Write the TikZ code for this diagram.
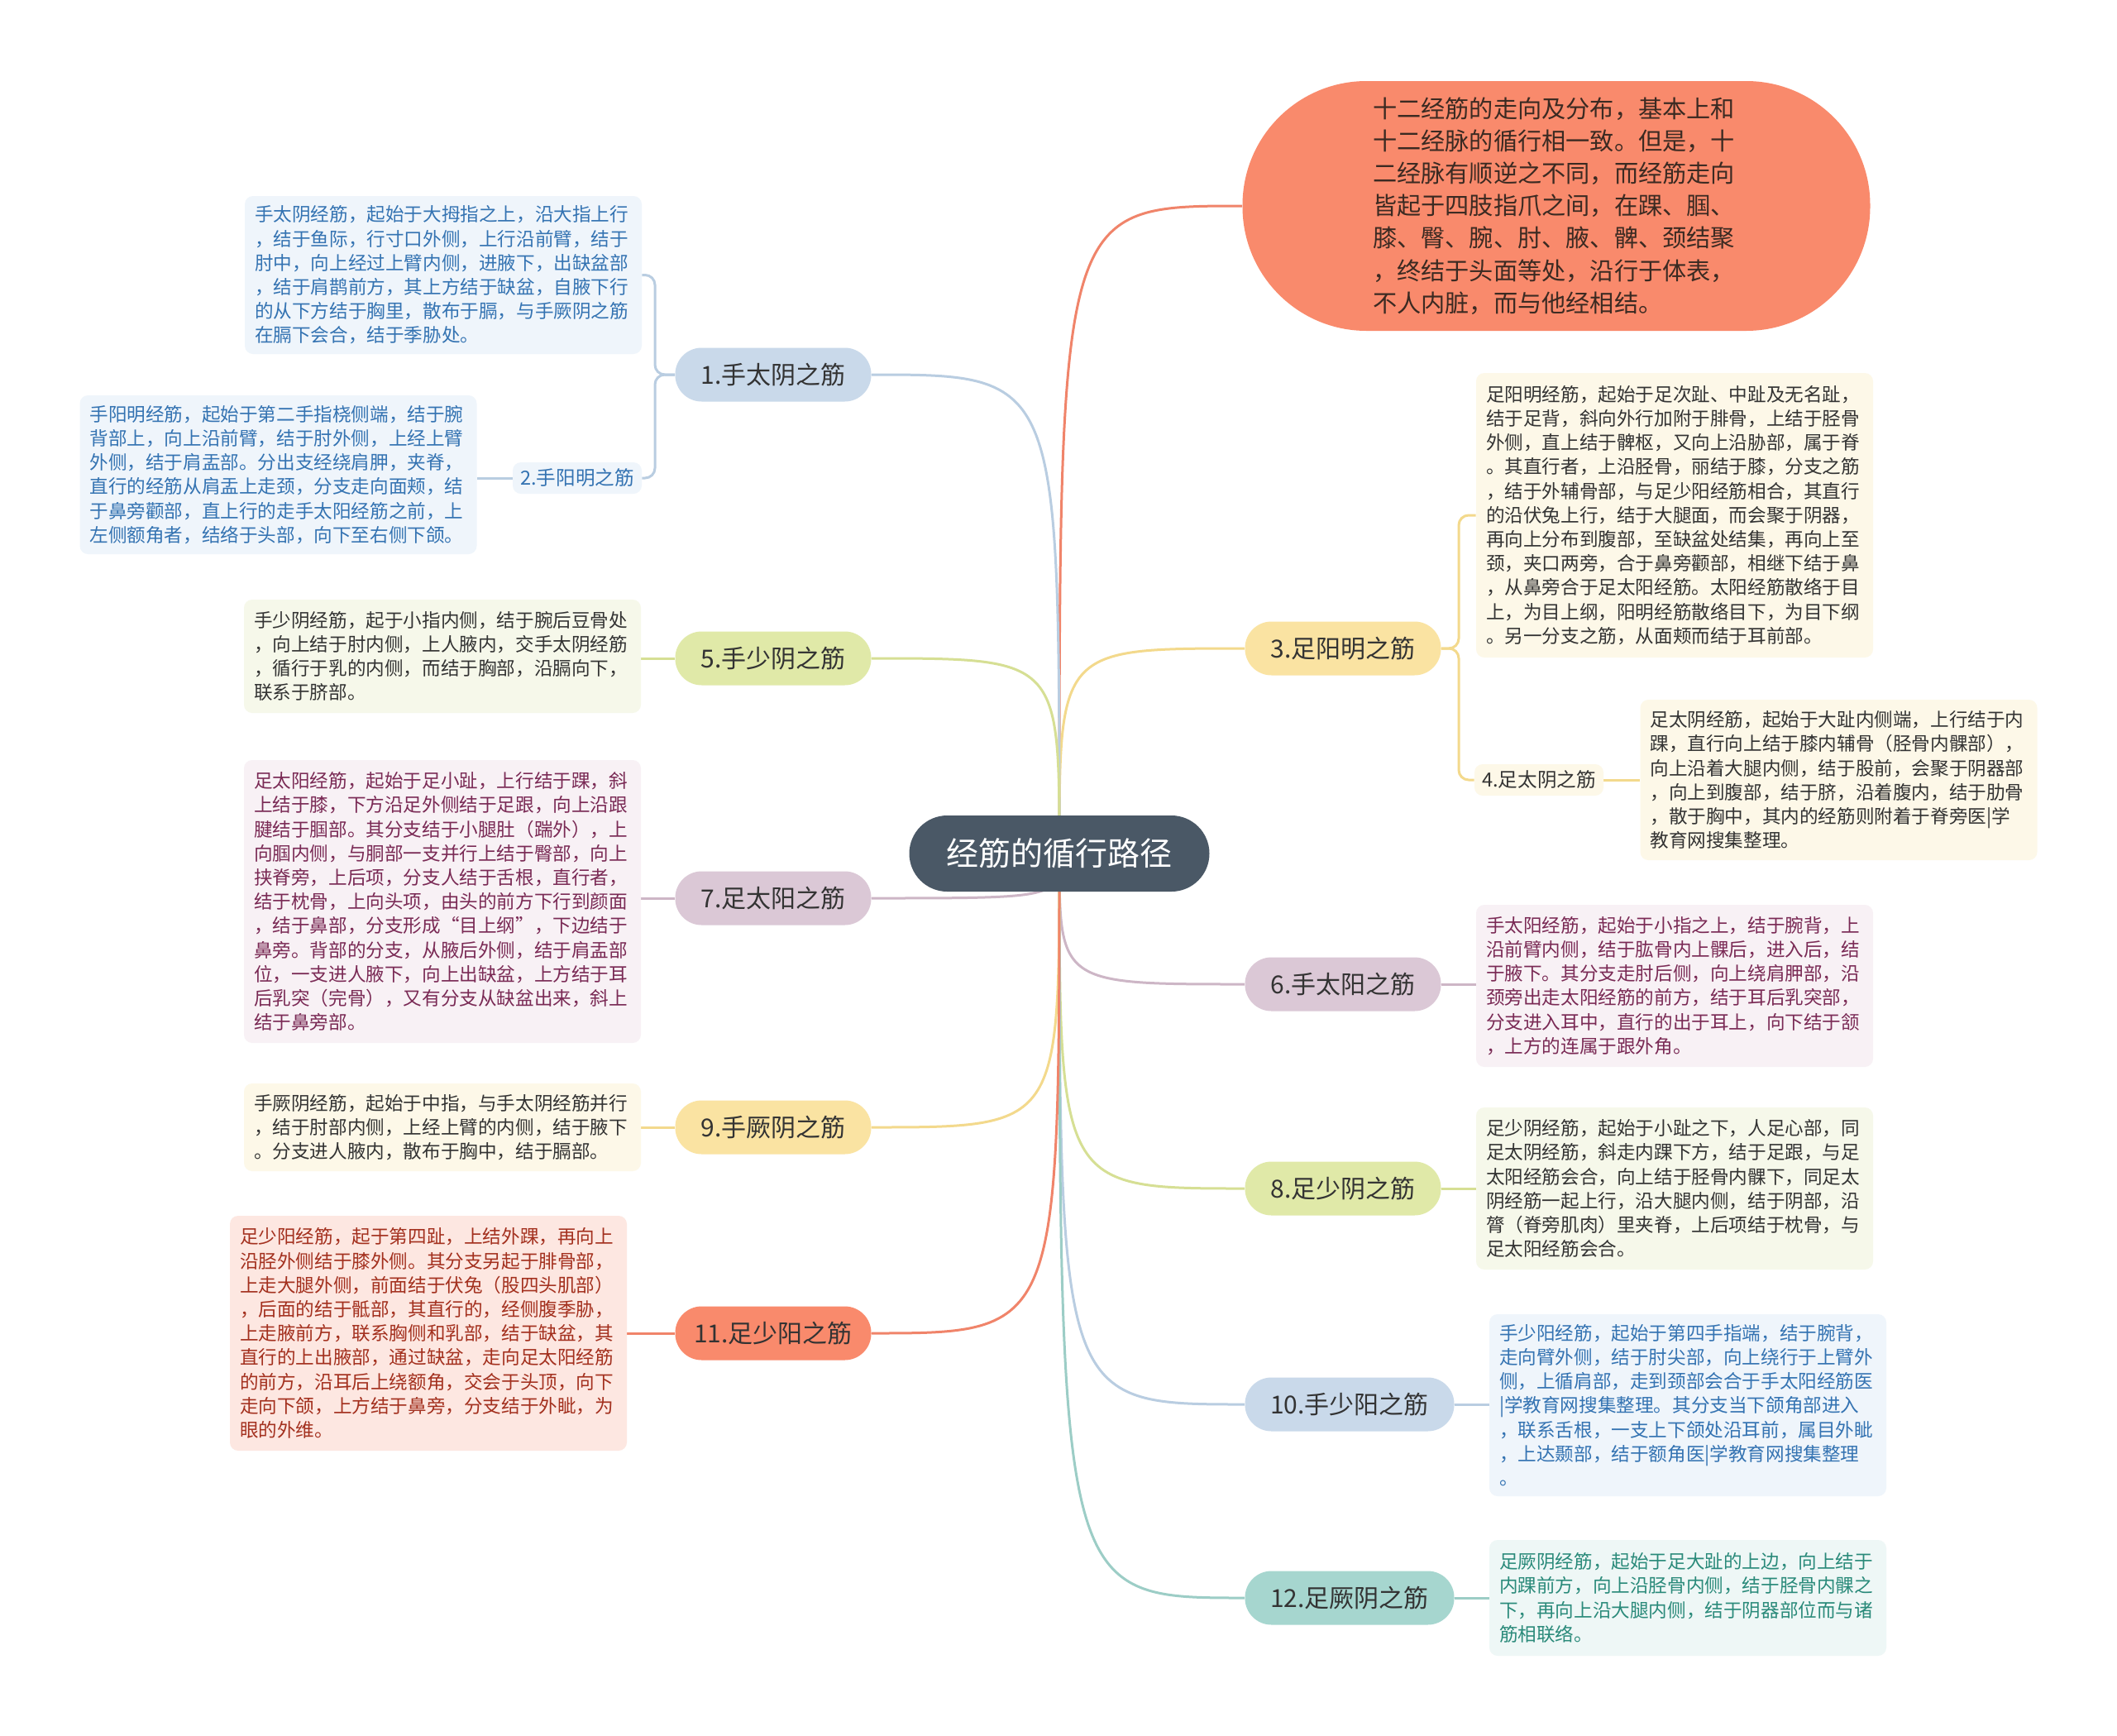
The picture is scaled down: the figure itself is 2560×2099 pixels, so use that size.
\documentclass[tikz,border=0pt]{standalone}
\usepackage{fontspec}
\setmainfont{Noto Sans CJK SC}
\usetikzlibrary{backgrounds}
\definecolor{txt}{HTML}{333333}
\definecolor{rootC}{HTML}{4A5866}
\definecolor{coral}{HTML}{F98A6C}
\definecolor{coralLn}{HTML}{F0846A}
\definecolor{bubTx}{HTML}{3B2A22}
\definecolor{bluePill}{HTML}{C9D9EA}
\definecolor{blueLn}{HTML}{B9CDE1}
\definecolor{blueBg}{HTML}{EFF5FB}
\definecolor{blueTx}{HTML}{3473B2}
\definecolor{yelPill}{HTML}{FAE3A2}
\definecolor{yelLn}{HTML}{F3D98C}
\definecolor{yelBg}{HTML}{FDF8E8}
\definecolor{grnPill}{HTML}{E0E9A8}
\definecolor{grnLn}{HTML}{D6DF94}
\definecolor{grnBg}{HTML}{F6F8EA}
\definecolor{mauPill}{HTML}{DBC8D6}
\definecolor{mauLn}{HTML}{CDB6C6}
\definecolor{mauBg}{HTML}{F8F1F5}
\definecolor{mauTx}{HTML}{7A2A55}
\definecolor{corBg}{HTML}{FDE7E1}
\definecolor{corTx}{HTML}{A3301E}
\definecolor{tealPill}{HTML}{A6D6CF}
\definecolor{tealLn}{HTML}{9CCDC6}
\definecolor{tealBg}{HTML}{EEF7F6}
\definecolor{tealTx}{HTML}{2A8A7A}
\begin{document}
\begin{tikzpicture}[x=0.5pt,y=-0.5pt,
  pill/.style={rounded corners=16pt, minimum width=118.5pt, minimum height=32.5pt, inner sep=0pt, font=\fontsize{15}{18}\selectfont, text=txt},
  leaf/.style={rounded corners=5pt, inner sep=0pt, align=left, text width=228pt, minimum width=240pt, font=\fontsize{11.3}{14.6}\selectfont},
  lab/.style={rounded corners=5pt, inner sep=0pt, minimum width=78pt, minimum height=19pt, font=\fontsize{11.8}{14}\selectfont},
  conn/.style={line width=1.5pt},
  cjoin/.style={conn, rounded corners=6pt}]
\useasboundingbox (0,0) rectangle (2560,2099);

% root and bubble
\node[rounded corners=23pt, fill=rootC, text=white, minimum width=181.5pt, minimum height=46pt, inner sep=0pt, font=\fontsize{19.5}{24}\selectfont] (root) at (1281,1032) {经筋的循行路径};
\node[rounded corners=75pt, fill=coral, text=bubTx, minimum width=379.5pt, minimum height=151pt, inner sep=0pt, align=left, text width=222pt, font=\fontsize{14.6}{19.6}\selectfont] (bub) at (1882,249) {十二经筋的走向及分布，基本上和\\十二经脉的循行相一致。但是，十\\二经脉有顺逆之不同，而经筋走向\\皆起于四肢指爪之间，在踝、腘、\\膝、臀、腕、肘、腋、髀、颈结聚\\，终结于头面等处，沿行于体表，\\不人内脏，而与他经相结。};

% pills left
\node[pill, fill=bluePill] (P1) at (935,453) {1.手太阴之筋};
\node[pill, fill=grnPill] (P5) at (935,796) {5.手少阴之筋};
\node[pill, fill=mauPill] (P7) at (935,1086) {7.足太阳之筋};
\node[pill, fill=yelPill] (P9) at (935,1363) {9.手厥阴之筋};
\node[pill, fill=coral] (P11) at (935,1612) {11.足少阳之筋};
% pills right
\node[pill, fill=yelPill] (P3) at (1624,784) {3.足阳明之筋};
\node[pill, fill=mauPill] (P6) at (1624,1190) {6.手太阳之筋};
\node[pill, fill=grnPill] (P8) at (1624,1437) {8.足少阴之筋};
\node[pill, fill=bluePill, minimum width=126.5pt] (P10) at (1632,1698) {10.手少阳之筋};
\node[pill, fill=tealPill, minimum width=126.5pt] (P12) at (1632,1932) {12.足厥阴之筋};

% label sub-branches
\node[lab, fill=blueBg, text=blueTx] (lab2) at (698,578) {2.手阳明之筋};
\node[lab, fill=yelBg, text=txt] (lab4) at (1861,943) {4.足太阴之筋};

% leaves left
\node[leaf, fill=blueBg, text=blueTx, minimum height=95.5pt] (L1) at (536,332.5) {手太阴经筋，起始于大拇指之上，沿大指上行\\，结于鱼际，行寸口外侧，上行沿前臂，结于\\肘中，向上经过上臂内侧，进腋下，出缺盆部\\，结于肩鹊前方，其上方结于缺盆，自腋下行\\的从下方结于胸里，散布于膈，与手厥阴之筋\\在膈下会合，结于季胁处。};
\node[leaf, fill=blueBg, text=blueTx, minimum height=96pt] (L2) at (336.5,574) {手阳明经筋，起始于第二手指桡侧端，结于腕\\背部上，向上沿前臂，结于肘外侧，上经上臂\\外侧，结于肩盂部。分出支经绕肩胛，夹脊，\\直行的经筋从肩盂上走颈，分支走向面颊，结\\于鼻旁颧部，直上行的走手太阳经筋之前，上\\左侧额角者，结络于头部，向下至右侧下颌。};
\node[leaf, fill=grnBg, text=txt, minimum height=68.5pt] (L5) at (535,793.5) {手少阴经筋，起于小指内侧，结于腕后豆骨处\\，向上结于肘内侧，上人腋内，交手太阴经筋\\，循行于乳的内侧，而结于胸部，沿膈向下，\\联系于脐部。};
\node[leaf, fill=mauBg, text=mauTx, minimum height=171pt] (L7) at (535,1090) {足太阳经筋，起始于足小趾，上行结于踝，斜\\上结于膝，下方沿足外侧结于足跟，向上沿跟\\腱结于腘部。其分支结于小腿肚（踹外），上\\向腘内侧，与胴部一支并行上结于臀部，向上\\挟脊旁，上后项，分支人结于舌根，直行者，\\结于枕骨，上向头项，由头的前方下行到颜面\\，结于鼻部，分支形成“目上纲”，下边结于\\鼻旁。背部的分支，从腋后外侧，结于肩盂部\\位，一支进人腋下，向上出缺盆，上方结于耳\\后乳突（完骨），又有分支从缺盆出来，斜上\\结于鼻旁部。};
\node[leaf, fill=yelBg, text=txt, minimum height=53pt] (L9) at (535,1363) {手厥阴经筋，起始于中指，与手太阴经筋并行\\，结于肘部内侧，上经上臂的内侧，结于腋下\\。分支进人腋内，散布于胸中，结于膈部。};
\node[leaf, fill=corBg, text=corTx, minimum height=142pt] (L11) at (518,1612) {足少阳经筋，起于第四趾，上结外踝，再向上\\沿胫外侧结于膝外侧。其分支另起于腓骨部，\\上走大腿外侧，前面结于伏兔（股四头肌部）\\，后面的结于骶部，其直行的，经侧腹季胁，\\上走腋前方，联系胸侧和乳部，结于缺盆，其\\直行的上出腋部，通过缺盆，走向足太阳经筋\\的前方，沿耳后上绕额角，交会于头顶，向下\\走向下颌，上方结于鼻旁，分支结于外眦，为\\眼的外维。};

% leaves right
\node[leaf, fill=yelBg, text=txt, minimum height=172pt] (R3) at (2025,623) {足阳明经筋，起始于足次趾、中趾及无名趾，\\结于足背，斜向外行加附于腓骨，上结于胫骨\\外侧，直上结于髀枢，又向上沿胁部，属于脊\\。其直行者，上沿胫骨，丽结于膝，分支之筋\\，结于外辅骨部，与足少阳经筋相合，其直行\\的沿伏兔上行，结于大腿面，而会聚于阴器，\\再向上分布到腹部，至缺盆处结集，再向上至\\颈，夹口两旁，合于鼻旁颧部，相继下结于鼻\\，从鼻旁合于足太阳经筋。太阳经筋散络于目\\上，为目上纲，阳明经筋散络目下，为目下纲\\。另一分支之筋，从面颊而结于耳前部。};
\node[leaf, fill=yelBg, text=txt, minimum height=97pt] (R4) at (2223.5,943) {足太阴经筋，起始于大趾内侧端，上行结于内\\踝，直行向上结于膝内辅骨（胫骨内髁部），\\向上沿着大腿内侧，结于股前，会聚于阴器部\\，向上到腹部，结于脐，沿着腹内，结于肋骨\\，散于胸中，其内的经筋则附着于脊旁医|学\\教育网搜集整理。};
\node[leaf, fill=mauBg, text=mauTx, minimum height=98pt] (R6) at (2025,1192) {手太阳经筋，起始于小指之上，结于腕背，上\\沿前臂内侧，结于肱骨内上髁后，进入后，结\\于腋下。其分支走肘后侧，向上绕肩胛部，沿\\颈旁出走太阳经筋的前方，结于耳后乳突部，\\分支进入耳中，直行的出于耳上，向下结于颔\\，上方的连属于跟外角。};
\node[leaf, fill=grnBg, text=txt, minimum height=98pt] (R8) at (2025,1437) {足少阴经筋，起始于小趾之下，人足心部，同\\足太阴经筋，斜走内踝下方，结于足跟，与足\\太阳经筋会合，向上结于胫骨内髁下，同足太\\阴经筋一起上行，沿大腿内侧，结于阴部，沿\\膂（脊旁肌肉）里夹脊，上后项结于枕骨，与\\足太阳经筋会合。};
\node[leaf, fill=blueBg, text=blueTx, minimum height=110pt] (R10) at (2041,1699) {手少阳经筋，起始于第四手指端，结于腕背，\\走向臂外侧，结于肘尖部，向上绕行于上臂外\\侧，上循肩部，走到颈部会合于手太阳经筋医\\|学教育网搜集整理。其分支当下颌角部进入\\，联系舌根，一支上下颌处沿耳前，属目外眦\\，上达颞部，结于额角医|学教育网搜集整理\\。};
\node[leaf, fill=tealBg, text=tealTx, minimum height=70pt] (R12) at (2041,1932) {足厥阴经筋，起始于足大趾的上边，向上结于\\内踝前方，向上沿胫骨内侧，结于胫骨内髁之\\下，再向上沿大腿内侧，结于阴器部位而与诸\\筋相联络。};

\coordinate (b1) at (792,453);
\coordinate (b3) at (1764,784);

\begin{pgfonlayer}{background}
\fill[white] (0,0) rectangle (2560,2099);
% root to branches
\draw[conn, draw=coralLn] (root.center) .. controls (root.center |- bub.west) .. (bub.west);
\draw[conn, draw=yelLn] (root.center) .. controls (root.center |- P3.west) .. (P3.west);
\draw[conn, draw=mauLn] (root.center) .. controls (root.center |- P6.west) .. (P6.west);
\draw[conn, draw=grnLn] (root.center) .. controls (root.center |- P8.west) .. (P8.west);
\draw[conn, draw=blueLn] (root.center) .. controls (root.center |- P10.west) .. (P10.west);
\draw[conn, draw=tealLn] (root.center) .. controls (root.center |- P12.west) .. (P12.west);
\draw[conn, draw=blueLn] (root.center) .. controls (root.center |- P1.east) .. (P1.east);
\draw[conn, draw=grnLn] (root.center) .. controls (root.center |- P5.east) .. (P5.east);
\draw[conn, draw=mauLn] (root.center) .. controls (root.center |- P7.east) .. (P7.east);
\draw[conn, draw=yelLn] (root.center) .. controls (root.center |- P9.east) .. (P9.east);
\draw[conn, draw=coralLn] (root.center) .. controls (root.center |- P11.east) .. (P11.east);
% branch to leaves
\draw[cjoin, draw=blueLn] (P1.west) -- (b1) |- (L1.east);
\draw[cjoin, draw=blueLn] (P1.west) -- (b1) |- (lab2.east);
\draw[conn, draw=blueLn] (lab2.west) -- (L2.east |- lab2.west);
\draw[cjoin, draw=yelLn] (P3.east) -- (b3) |- (R3.west);
\draw[cjoin, draw=yelLn] (P3.east) -- (b3) |- (lab4.west);
\draw[conn, draw=yelLn] (lab4.east) -- (R4.west |- lab4.east);
\draw[conn, draw=grnLn] (P5.west) -- (L5.east |- P5.west);
\draw[conn, draw=mauLn] (P7.west) -- (L7.east |- P7.west);
\draw[conn, draw=yelLn] (P9.west) -- (L9.east |- P9.west);
\draw[conn, draw=coralLn] (P11.west) -- (L11.east |- P11.west);
\draw[conn, draw=mauLn] (P6.east) -- (R6.west |- P6.east);
\draw[conn, draw=grnLn] (P8.east) -- (R8.west |- P8.east);
\draw[conn, draw=blueLn] (P10.east) -- (R10.west |- P10.east);
\draw[conn, draw=tealLn] (P12.east) -- (R12.west |- P12.east);
\end{pgfonlayer}
\end{tikzpicture}
\end{document}
